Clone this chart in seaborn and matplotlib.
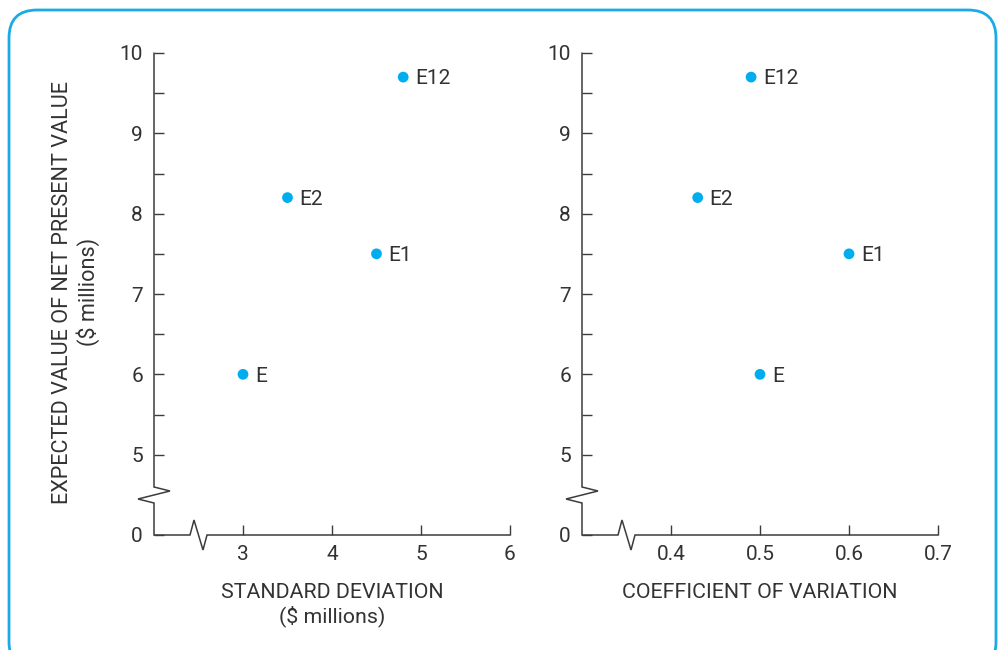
import matplotlib
matplotlib.use("Agg")
import matplotlib.pyplot as plt
import matplotlib.transforms as mtransforms
from matplotlib.patches import FancyBboxPatch
import seaborn as sns
import pandas as pd

# Projects: expected NPV vs. risk measures ($ millions)
projects = ["E", "E1", "E2", "E12"]
expected_npv = [6.0, 7.5, 8.2, 9.7]
std_dev = [3.0, 4.5, 3.5, 4.8]
coef_var = [0.50, 0.60, 0.43, 0.49]

y_tick_values = [4, 5, 6, 7, 8, 9, 10]
y_tick_labels = ["0", "5", "6", "7", "8", "9", "10"]
y_minor_ticks = [5.5, 6.5, 7.5, 8.5, 9.5]
sd_ticks = [3, 4, 5, 6]
cv_ticks = [0.4, 0.5, 0.6, 0.7]
cv_tick_labels = ["0.4", "0.5", "0.6", "0.7"]

df = pd.DataFrame({"project": projects, "npv": expected_npv,
                   "sd": std_dev, "cv": coef_var})

sns.set_theme(style="white")
plt.rcParams["font.family"] = ["Roboto", "DejaVu Sans"]

W, H, DPI = 998, 650, 100
TEXT = "#333333"
AXIS = "#3c3c3c"
DOT = "#00aeef"
FRAME = "#1aabe6"

fig = plt.figure(figsize=(W / DPI, H / DPI), dpi=DPI)
fig.patch.set_facecolor("white")

ax_w_px, ax_h_px = 356, 482
bottom_px = 535
axes_left_px = [154, 582]
axes = [fig.add_axes([x / W, (H - bottom_px) / H, ax_w_px / W, ax_h_px / H])
        for x in axes_left_px]


def broken_axes(ax):
    """Draw both axis lines with zig-zag break marks near the origin."""
    pts = [(0, ax_h_px), (0, 48), (16, 44), (-16, 36), (0, 32), (0, 0),
           (36, 0), (40, 15), (49, -15), (53, 0), (ax_w_px, 0)]
    xs = [p[0] / ax_w_px for p in pts]
    ys = [p[1] / ax_h_px for p in pts]
    ax.plot(xs, ys, transform=ax.transAxes, color=AXIS, lw=1.1,
            clip_on=False, solid_joinstyle="miter", zorder=2)


panels = [
    (axes[0], "sd", (2, 6), sd_ticks, [str(t) for t in sd_ticks],
     "STANDARD DEVIATION\n($ millions)"),
    (axes[1], "cv", (0.3, 0.7), cv_ticks, cv_tick_labels,
     "COEFFICIENT OF VARIATION"),
]

for ax, col, xlim, xt, xtl, xlabel in panels:
    sns.scatterplot(data=df, x=col, y="npv", ax=ax, color=DOT, s=60,
                    edgecolor="none", linewidth=0, legend=False, zorder=3)
    for _, row in df.iterrows():
        ax.annotate(row["project"], (row[col], row["npv"]),
                    xytext=(8.5, -1.2), textcoords="offset points",
                    ha="left", va="center", fontsize=15, color=TEXT)
    ax.set_xlim(*xlim)
    ax.set_ylim(4, 10)
    ax.set_xticks(xt)
    ax.set_xticklabels(xtl)
    ax.set_yticks(y_tick_values)
    ax.set_yticklabels(y_tick_labels)
    ax.set_yticks(y_minor_ticks, minor=True)
    for s in ax.spines.values():
        s.set_visible(False)
    ax.tick_params(axis="both", which="both", direction="in", length=7.5,
                   width=1.0, color=AXIS, labelcolor=TEXT, labelsize=15,
                   left=True, bottom=True, top=False, right=False)
    ax.tick_params(axis="y", which="both", pad=8)
    ax.tick_params(axis="x", pad=7)
    ax.set_xlabel("")
    ax.set_ylabel("")
    ax.set_facecolor("none")
    ax.grid(False)
    broken_axes(ax)
    cx = (ax.get_position().x0 + ax.get_position().x1) / 2
    fig.text(cx, 1 - 583 / H, xlabel, ha="center", va="top",
             multialignment="center", fontsize=15.4, color=TEXT,
             linespacing=1.22)

fig.text(76 / W, 1 - 292 / H,
         "EXPECTED VALUE OF NET PRESENT VALUE\n($ millions)",
         rotation=90, ha="center", va="center", multialignment="center",
         fontsize=15.6, color=TEXT, linespacing=1.22)

# rounded outer frame, running off the bottom edge
frame = FancyBboxPatch((9, -20), 987, 650 - 10 + 20,
                       boxstyle="round,pad=0,rounding_size=28",
                       transform=mtransforms.IdentityTransform(),
                       facecolor="none", edgecolor=FRAME, lw=2.0,
                       clip_on=False)
fig.patches.append(frame)

fig.savefig("out.png", dpi=DPI, facecolor="white")
